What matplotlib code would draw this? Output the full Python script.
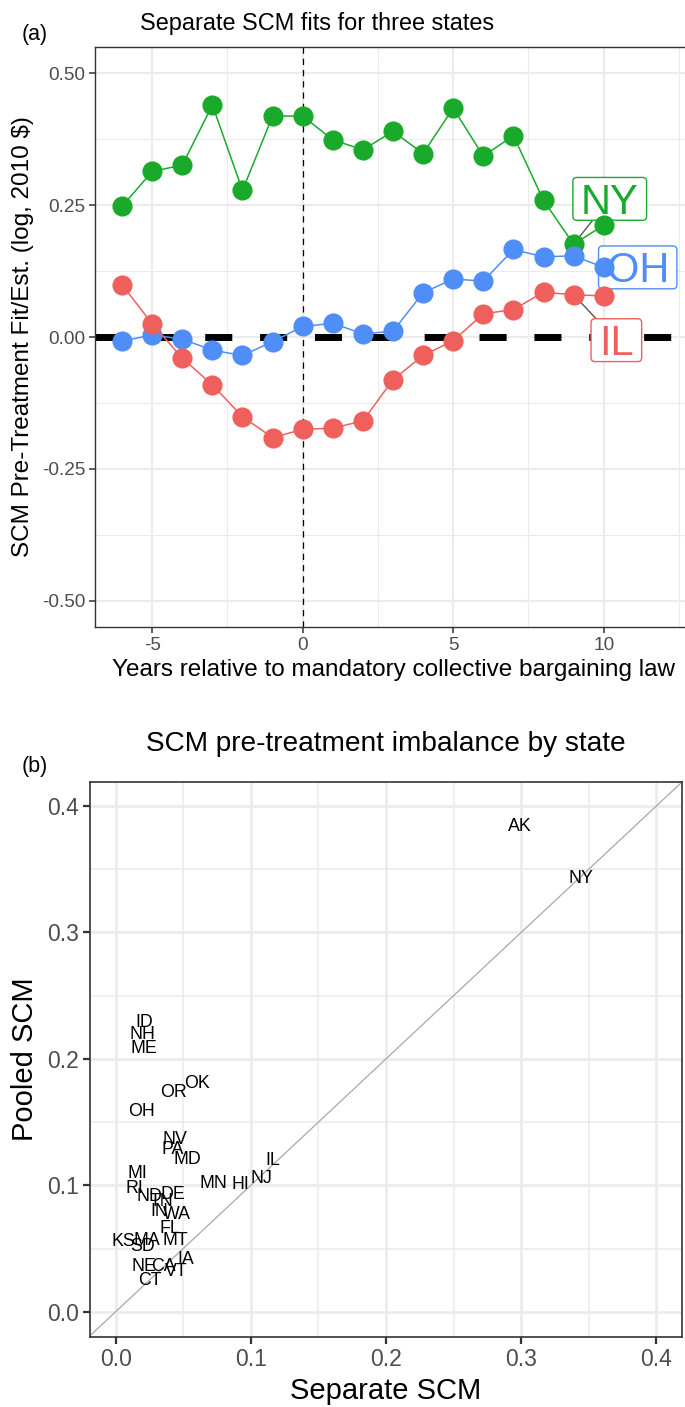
import numpy as np
import matplotlib.pyplot as plt
from matplotlib.patches import FancyBboxPatch
from matplotlib.transforms import IdentityTransform
from matplotlib.ticker import MultipleLocator

plt.rcParams['font.family'] = ['Liberation Sans', 'DejaVu Sans']
plt.rcParams['axes.unicode_minus'] = False

# ---- panel (a): separate SCM fits ----
years = [-6, -5, -4, -3, -2, -1, 0, 1, 2, 3, 4, 5, 6, 7, 8, 9, 10]
fit_ny = [0.248, 0.314, 0.326, 0.440, 0.278, 0.419, 0.419, 0.374, 0.355, 0.390,
          0.348, 0.434, 0.343, 0.382, 0.259, 0.176, 0.212]
fit_oh = [-0.008, 0.004, -0.004, -0.025, -0.035, -0.009, 0.020, 0.026, 0.006, 0.011,
          0.084, 0.110, 0.106, 0.166, 0.152, 0.154, 0.132]
fit_il = [0.099, 0.025, -0.040, -0.091, -0.151, -0.191, -0.175, -0.173, -0.159, -0.081,
          -0.035, -0.007, 0.044, 0.052, 0.085, 0.080, 0.078]
series_names = ['NY', 'OH', 'IL']
series_cols = ['#19AA2C', '#4F8DF7', '#EF5F5B']
# repelled label positions (data coords) and whether a leader segment is shown
label_x = [10.2, 11.13, 10.42]
label_y = [0.262, 0.132, -0.006]
label_seg = [True, False, True]
anchor_year = 9

# ---- panel (b): pre-treatment imbalance by state ----
states = ['AK', 'NY', 'ID', 'NH', 'ME', 'OR', 'OK', 'OH', 'NV', 'PA', 'MD', 'MI', 'IL',
          'NJ', 'HI', 'MN', 'RI', 'ND', 'DE', 'TN', 'IN', 'WA', 'FL', 'MT', 'KS', 'SD',
          'MA', 'IA', 'NE', 'CA', 'VT', 'CT']
separate = [0.299, 0.344, 0.021, 0.020, 0.021, 0.043, 0.060, 0.019, 0.044, 0.042, 0.053,
            0.016, 0.116, 0.108, 0.092, 0.072, 0.014, 0.025, 0.042, 0.034, 0.032, 0.045,
            0.040, 0.044, 0.006, 0.020, 0.023, 0.052, 0.021, 0.035, 0.045, 0.025]
pooled = [0.385, 0.344, 0.230, 0.221, 0.210, 0.175, 0.182, 0.160, 0.138, 0.130, 0.122,
          0.111, 0.121, 0.107, 0.102, 0.103, 0.099, 0.093, 0.094, 0.089, 0.081, 0.078,
          0.067, 0.058, 0.057, 0.053, 0.058, 0.043, 0.037, 0.037, 0.033, 0.026]

W, H = 685, 1407
fig = plt.figure(figsize=(W / 100, H / 100), dpi=100)
fig.patch.set_facecolor('white')

GRID = '#EBEBEB'
BORDER = '#333333'
TICKLAB = '#4D4D4D'


def px_axes(left, top, right, bottom):
    return [left / W, (H - bottom) / H, (right - left) / W, (bottom - top) / H]


# ================= panel (a) =================
ax = fig.add_axes(px_axes(95, 47, 691, 627))
ax.set_xlim(-6.9, 12.9)
ax.set_ylim(-0.55, 0.55)
ax.xaxis.set_major_locator(MultipleLocator(5))
ax.xaxis.set_minor_locator(MultipleLocator(2.5))
ax.set_yticks([-0.5, -0.25, 0, 0.25, 0.5])
ax.set_yticklabels(['-0.50', '-0.25', '0.00', '0.25', '0.50'])
ax.yaxis.set_minor_locator(MultipleLocator(0.125))
ax.grid(which='major', color=GRID, lw=1.5, zorder=0)
ax.grid(which='minor', color=GRID, lw=0.8, zorder=0)
ax.set_axisbelow(True)
ax.tick_params(which='major', length=4, width=1.1, color=BORDER, labelsize=13.7,
               labelcolor=TICKLAB, pad=3)
ax.tick_params(which='minor', length=0)
for sp in ax.spines.values():
    sp.set_color(BORDER)
    sp.set_linewidth(1.0)

ax.axhline(0, color='black', lw=5, dashes=(3.9, 4.0), zorder=1.5)
ax.axvline(0, color='black', lw=0.9, dashes=(5, 4), zorder=1.5)

series_vals = [fit_ny, fit_oh, fit_il]
for vals, col in zip(series_vals, series_cols):
    ax.plot(years, vals, color=col, lw=1.1, marker='o', ms=13.5, mec=col, mfc=col, zorder=3)

ax.set_xlabel('Years relative to mandatory collective bargaining law', fontsize=17.5, labelpad=4)
ax.set_ylabel('SCM Pre-Treatment Fit/Est. (log, 2010 $)', fontsize=17.5, labelpad=6)
fig.text(140 / W, 1 - 30 / H, 'Separate SCM fits for three states', fontsize=16.9,
         ha='left', va='baseline')
fig.text(22 / W, 1 - 40 / H, '(a)', fontsize=15.5, ha='left', va='baseline')

# repelled labels, drawn in pixel space
renderer = fig.canvas.get_renderer()
ident = IdentityTransform()
lab_fs = 30
cap = 0.716 * lab_fs * fig.dpi / 72
padx, pady = 8, 6.5
for name, lx, ly, seg, vals, col in zip(series_names, label_x, label_y, label_seg,
                                        series_vals, series_cols):
    cx, cy = ax.transData.transform((lx, ly))
    t = ax.text(cx, cy - cap / 2, name, transform=ident, ha='center', va='baseline',
                fontsize=lab_fs, color=col, zorder=2.6)
    tw = t.get_window_extent(renderer).width
    bw, bh = tw + 2 * padx, cap + 2 * pady
    box = FancyBboxPatch((cx - bw / 2, cy - bh / 2), bw, bh,
                         boxstyle='round,pad=0,rounding_size=4', transform=ident,
                         fc='white', ec=col, lw=1.0, alpha=1, zorder=2.5)
    box.set_edgecolor((*plt.matplotlib.colors.to_rgb(col), 0.65))
    ax.add_patch(box)
    if seg:
        i = years.index(anchor_year)
        px, py = ax.transData.transform((anchor_year, vals[i]))
        dx, dy = px - cx, py - cy
        s = min(bw / 2 / abs(dx), bh / 2 / abs(dy))
        ax.plot([px, cx + s * dx], [py, cy + s * dy], transform=ident, color='#555555',
                lw=1.0, zorder=2.4)

# ================= panel (b) =================
ax2 = fig.add_axes(px_axes(90, 782, 682, 1337))
ax2.set_xlim(-0.019, 0.419)
ax2.set_ylim(-0.02, 0.419)
ax2.xaxis.set_major_locator(MultipleLocator(0.1))
ax2.xaxis.set_minor_locator(MultipleLocator(0.05))
ax2.yaxis.set_major_locator(MultipleLocator(0.1))
ax2.yaxis.set_minor_locator(MultipleLocator(0.05))
ax2.xaxis.set_major_formatter(plt.FormatStrFormatter('%.1f'))
ax2.yaxis.set_major_formatter(plt.FormatStrFormatter('%.1f'))
ax2.grid(which='major', color=GRID, lw=1.9, zorder=0)
ax2.grid(which='minor', color=GRID, lw=1.1, zorder=0)
ax2.set_axisbelow(True)
ax2.tick_params(which='major', length=5, width=1.6, color=BORDER, labelsize=16.5,
                labelcolor=TICKLAB, pad=3)
ax2.tick_params(which='minor', length=0)
for sp in ax2.spines.values():
    sp.set_color(BORDER)
    sp.set_linewidth(1.2)

ax2.axline((0, 0), slope=1, color='#A8A8A8', lw=0.9, zorder=1)
st_fs = 12.8
st_cap = 0.716 * st_fs
for s, x, y in zip(states, separate, pooled):
    ax2.annotate(s, (x, y), xytext=(0, -st_cap / 2), textcoords='offset points',
                 ha='center', va='baseline', fontsize=st_fs, color='black', zorder=3)

ax2.set_xlabel('Separate SCM', fontsize=21, labelpad=4)
ax2.set_ylabel('Pooled SCM', fontsize=21, labelpad=6)
ax2.set_title('SCM pre-treatment imbalance by state', fontsize=20.2, pad=22)
fig.text(22 / W, 1 - 772 / H, '(b)', fontsize=15.5, ha='left', va='baseline')

fig.savefig('out.png', dpi=100, facecolor='white')
